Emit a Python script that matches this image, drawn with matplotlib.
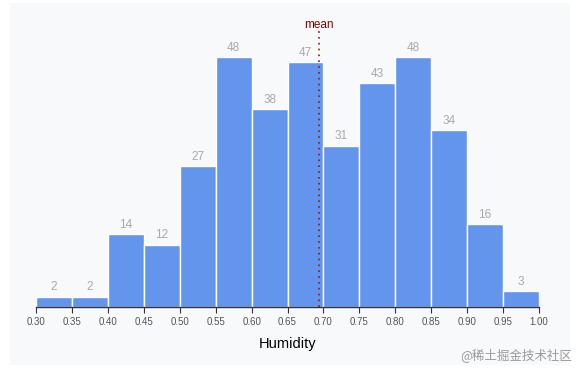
import numpy as np
import matplotlib.pyplot as plt

plt.rcParams['font.family'] = ['Liberation Sans', 'DejaVu Sans']

# Datos del histograma
bin_edges = [0.30, 0.35, 0.40, 0.45, 0.50, 0.55, 0.60, 0.65, 0.70,
             0.75, 0.80, 0.85, 0.90, 0.95, 1.00]
counts = [2, 2, 14, 12, 27, 48, 38, 47, 31, 43, 48, 34, 16, 3]
mean_value = 0.694
x_label = 'Humidity'
watermark = '@稀土掘金技术社区'

fig = plt.figure(figsize=(5.84, 3.75), dpi=100)
W, H = 584, 375

# Panel de fondo
bg = fig.add_axes([10 / W, 1 - 365 / H, 560 / W, 362 / H], zorder=-1)
bg.set_facecolor('#f7f9fb')
bg.set_xticks([])
bg.set_yticks([])
for s in bg.spines.values():
    s.set_visible(False)

ax = fig.add_axes([36 / W, 1 - 307 / H, 503 / W, 292 / H])
ax.set_facecolor('none')

lefts = np.array(bin_edges[:-1])
widths = np.diff(bin_edges)
ax.bar(lefts, counts, width=widths, align='edge', color='#6495ed',
       edgecolor='white', linewidth=1)

for x, w, c in zip(lefts, widths, counts):
    ax.text(x + w / 2, c + 0.6, str(c), ha='center', va='bottom',
            fontsize=8.5, color='#a9a9a9')

ax.set_xlim(bin_edges[0], bin_edges[-1])
ax.set_ylim(0, 48 * 292 / 250)

# Línea de la media
ax.plot([mean_value, mean_value], [0, 53.0], linestyle=(0, (1, 2.5)),
        color='#8b1a1a', linewidth=1.2)
ax.text(mean_value, 54.1, 'mean', ha='center', va='center', fontsize=8.5,
        color='#8b0000')

ax.set_xticks(bin_edges)
ax.set_xticklabels([f'{v:.2f}' for v in bin_edges])
ax.tick_params(axis='x', labelsize=7, labelcolor='#555555', color='#333333',
               length=4, width=0.8)
ax.set_yticks([])
for s in ['top', 'right', 'left']:
    ax.spines[s].set_visible(False)
ax.spines['bottom'].set_color('#333333')
ax.spines['bottom'].set_linewidth(1)

ax.set_xlabel(x_label, fontsize=10.5, color='black', labelpad=7)

fig.text(572 / W, 1 - 355 / H, watermark, ha='right', va='center',
         fontsize=9, color='#9a9a9a',
         family=['Noto Sans CJK SC', 'DejaVu Sans'])

fig.savefig('out.png', dpi=100)
